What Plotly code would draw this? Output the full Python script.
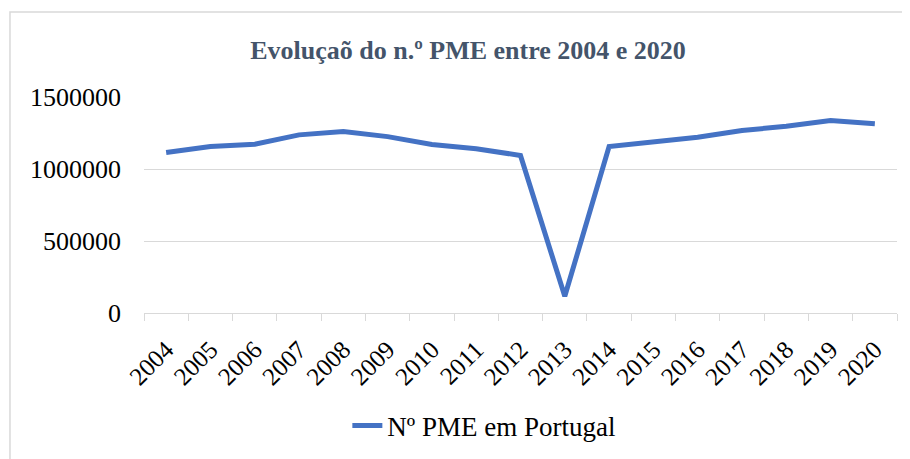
import plotly.graph_objects as go

anos = [str(a) for a in range(2004, 2021)]
n_pme = [1114000, 1156000, 1172000, 1237000, 1260000, 1225000, 1170000, 1140000,
         1094000, 116000, 1156000, 1191000, 1220000, 1267000, 1297000, 1336000, 1315000]

serif = "Liberation Serif"
cinza = "#D9D9D9"

fig = go.Figure()
fig.add_trace(go.Scatter(
    x=anos, y=n_pme, mode="lines", name="Nº PME em Portugal",
    line=dict(color="#4472C4", width=5),
))

# a página tem 8px de margem no body, por isso a figura é 8px mais pequena
fig.update_layout(
    width=902, height=451,
    margin=dict(l=136, r=13, t=89, b=146, autoexpand=False),
    paper_bgcolor="white", plot_bgcolor="white",
    font=dict(family=serif, size=26, color="black"),
    title=dict(text="<b>Evoluçaõ do n.º PME entre 2004 e 2020</b>",
               x=0.51, xanchor="center", y=0.907, yanchor="middle",
               font=dict(family=serif, size=26, color="#44546A")),
    showlegend=True,
    legend=dict(orientation="h", x=0.452, xanchor="center", y=-0.523, yanchor="middle",
                font=dict(family=serif, size=27, color="black")),
    shapes=[dict(type="rect", xref="paper", yref="paper",
                 x0=-0.178, x1=1.1, y0=-0.8, y1=1.394,
                 line=dict(color=cinza, width=1.5), fillcolor="rgba(0,0,0,0)")],
)

fig.update_xaxes(type="category", range=[-0.5, 16.5], tickangle=-45,
                 showgrid=False, automargin=False,
                 showline=True, linecolor=cinza, linewidth=1,
                 ticks="outside", tickson="boundaries", ticklen=7, tickcolor=cinza,
                 ticklabelstandoff=11,
                 tickfont=dict(family=serif, size=25, color="black"))
fig.update_yaxes(range=[0, 1500000], tickvals=[0, 500000, 1000000, 1500000],
                 ticktext=["0", "500000", "1000000", "1500000"], automargin=False,
                 showgrid=True, gridcolor=cinza, gridwidth=1, zeroline=False,
                 showline=False, ticks="", ticklabelstandoff=22,
                 tickfont=dict(family=serif, size=26, color="black"))

fig.write_html("out.html")
